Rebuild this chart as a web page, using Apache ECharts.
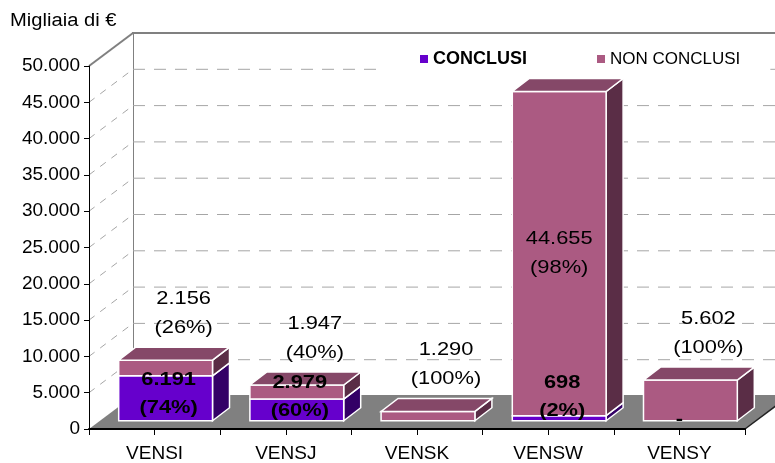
<!DOCTYPE html>
<html>
<head>
<meta charset="utf-8">
<script src="https://cdn.jsdelivr.net/npm/echarts@6/dist/echarts.min.js"></script>
<style>
    html, body { margin: 0; padding: 0; background: #fff; }
    #chart { width: 775px; height: 463px; }
</style>
</head>
<body>
<div id="chart"></div>
<script>
// dati
var categories = ['VENSI', 'VENSJ', 'VENSK', 'VENSW', 'VENSY'];
var conclusi = [6191, 2979, 0, 698, 0];
var nonConclusi = [2156, 1947, 1290, 44655, 5602];
var yTicks = [0, 5000, 10000, 15000, 20000, 25000, 30000, 35000, 40000, 45000, 50000];

// effetto 3D
var WALL = [44, -33];
var BAR_DEPTH = [17, -13];
var BAR_SHIFT = 0.25;
var BAR_WIDTH = 0.715;
var TEXT_STRETCH = 1.15;
var FONT = '"Liberation Sans", Arial, sans-serif';

var colConclusi = { front: '#6600CC', side: '#330066', top: '#4d0099' };
var colNon = { front: '#AB5A82', side: '#5A2D46', top: '#854868' };

function fmt(v) {
    return String(v).replace(/\B(?=(\d{3})+(?!\d))/g, '.');
}

function boxGeom(api, cat, base, val) {
    var p0 = api.coord([cat, base]), p1 = api.coord([cat, base + val]);
    var w = api.size([1, 0])[0] * BAR_WIDTH;
    var sx = WALL[0] * BAR_SHIFT, sy = WALL[1] * BAR_SHIFT;
    var x0 = p0[0] - w / 2 + sx;
    return { x0: x0, x1: x0 + w, yb: p0[1] + sy, yt: p1[1] + sy, cx: p0[0] + sx, c0: p0[0] };
}

function renderWalls(params, api) {
    var cs = params.coordSys;
    var L = cs.x, R = cs.x + cs.width, T = cs.y, B = cs.y + cs.height;
    var dx = WALL[0], dy = WALL[1];
    var kids = [];
    kids.push({
        type: 'polygon',
        shape: { points: [[L + dx, T + dy], [R + dx + 60, T + dy], [R + dx + 60, B + dy], [L + dx, B + dy]] },
        style: { fill: '#fff', stroke: '#808080', lineWidth: 2 }
    });
    kids.push({
        type: 'polygon',
        shape: { points: [[L, T], [L + dx, T + dy], [L + dx, B + dy], [L, B]] },
        style: { fill: '#fff' }
    });
    yTicks.forEach(function (v) {
        if (v === 0) return;
        var y = api.coord([0, v])[1];
        var top = v === yTicks[yTicks.length - 1];
        if (!top) {
            kids.push({
                type: 'line',
                shape: { x1: L + dx, y1: y + dy, x2: R + dx + 60, y2: y + dy },
                style: { stroke: '#a6a6a6', lineWidth: 1, lineDash: [12, 9] }
            });
        }
        kids.push({
            type: 'line',
            shape: { x1: L, y1: y, x2: L + dx, y2: y + dy },
            style: top ? { stroke: '#808080', lineWidth: 2 } : { stroke: '#a6a6a6', lineWidth: 1, lineDash: [7, 7] }
        });
    });
    // pavimento
    kids.push({
        type: 'polygon',
        shape: { points: [[L, B], [R, B], [R + dx, B + dy], [L + dx, B + dy]] },
        style: { fill: '#808080' }
    });
    kids.push({
        type: 'line',
        shape: { x1: R, y1: B, x2: R + dx, y2: B + dy },
        style: { stroke: '#222', lineWidth: 1.5 }
    });
    return { type: 'group', children: kids };
}

function makeBarRenderer(colors, withTop) {
    return function (params, api) {
        var val = api.value(2);
        if (!(val > 0)) return;
        var g = boxGeom(api, api.value(0), api.value(1), val);
        var dx = BAR_DEPTH[0], dy = BAR_DEPTH[1];
        var kids = [
            {
                type: 'polygon',
                shape: { points: [[g.x1, g.yb], [g.x1 + dx, g.yb + dy], [g.x1 + dx, g.yt + dy], [g.x1, g.yt]] },
                style: { fill: colors.side, stroke: '#fff', lineWidth: 1.5 }
            },
            {
                type: 'rect',
                shape: { x: g.x0, y: g.yt, width: g.x1 - g.x0, height: g.yb - g.yt },
                style: { fill: colors.front, stroke: '#fff', lineWidth: 1.5 }
            }
        ];
        if (withTop) {
            kids.push({
                type: 'polygon',
                shape: { points: [[g.x0, g.yt], [g.x1, g.yt], [g.x1 + dx, g.yt + dy], [g.x0 + dx, g.yt + dy]] },
                style: { fill: colors.top, stroke: '#fff', lineWidth: 1.5 }
            });
        }
        return { type: 'group', children: kids };
    };
}

function label(text, x, y, weight, lh) {
    return {
        type: 'text', x: x, y: y, scaleX: TEXT_STRETCH,
        style: {
            text: text, x: 0, y: 0, fill: '#000',
            font: weight + ' 19px ' + FONT, align: 'center', verticalAlign: 'middle', lineHeight: lh
        }
    };
}

function renderLabels(params, api) {
    var i = api.value(0), c = api.value(1), n = api.value(2);
    var tot = c + n;
    var gT = boxGeom(api, i, 0, tot), gC = boxGeom(api, i, 0, c);
    var pc = Math.round(c / tot * 100), pn = 100 - pc;
    var kids = [];
    var segH = gC.yt - gT.yt;
    if (segH > 60) {
        kids.push(label(fmt(n) + '\n(' + pn + '%)', gT.cx, (gC.yt + gT.yt) / 2, 'normal', 29));
    } else {
        kids.push(label(fmt(n) + '\n(' + pn + '%)', gT.cx + 18, gT.yt - 47, 'normal', 29));
    }
    if (c > 0) {
        kids.push(label(fmt(c) + '\n(' + pc + '%)', gC.cx + 3,
            Math.min((gC.yb + gC.yt) / 2 - 5, gC.yb - 24), 'bold', 28));
    } else if (gT.yb - gT.yt > 30) {
        kids.push(label('-', gT.c0, gT.yb - 1, 'bold', 19));
    }
    return { type: 'group', children: kids };
}

var chart = echarts.init(document.getElementById('chart'));
chart.setOption({
    animation: false,
    backgroundColor: '#fff',
    textStyle: { fontFamily: FONT },
    graphic: [{
        type: 'text', left: 10, top: 12, scaleX: 1.12,
        style: { text: 'Migliaia di €', fill: '#000', font: 'normal 18px ' + FONT }
    }],
    legend: {
        data: [
            { name: 'CONCLUSI', textStyle: { fontWeight: 'bold', fontSize: 18 } },
            { name: 'NON CONCLUSI' }
        ],
        left: 385, top: 43, icon: 'rect', itemWidth: 8, itemHeight: 8, itemGap: 70,
        backgroundColor: '#fff', padding: [7, 30, 8, 35],
        textStyle: { color: '#000', fontSize: 17, fontFamily: FONT }
    },
    grid: { left: 89, right: 30, top: 66, bottom: 34, containLabel: false, outerBoundsMode: 'none' },
    xAxis: [{
        type: 'category', data: categories, boundaryGap: true, z: 10,
        axisLine: { show: true, lineStyle: { color: '#000', width: 2 } },
        axisTick: { show: true, interval: 0, length: 6, alignWithLabel: false, lineStyle: { color: '#000' } },
        axisLabel: { color: '#000', fontSize: 19, fontFamily: FONT, margin: 15, interval: 0 },
        splitLine: { show: false }
    }, {
        type: 'category', data: categories, boundaryGap: true, position: 'bottom', z: 10,
        axisLine: { show: false },
        axisTick: { show: true, interval: 0, length: 6, alignWithLabel: true, lineStyle: { color: '#000' } },
        axisLabel: { show: false },
        splitLine: { show: false }
    }],
    yAxis: {
        type: 'value', min: yTicks[0], max: yTicks[yTicks.length - 1], interval: yTicks[1] - yTicks[0], z: 10,
        axisLine: { show: true, lineStyle: { color: '#000', width: 1 } },
        axisTick: { show: true, length: 5, lineStyle: { color: '#000' } },
        axisLabel: { color: '#000', fontSize: 19, fontFamily: FONT, margin: 9, formatter: fmt },
        splitLine: { show: false }
    },
    series: [{
        type: 'custom', name: 'pareti', z: 1, silent: true,
        renderItem: renderWalls,
        data: [[0, 0, 0]]
    }, {
        type: 'custom', name: 'CONCLUSI', z: 2,
        itemStyle: { color: colConclusi.front },
        renderItem: makeBarRenderer(colConclusi, false),
        encode: { x: 0, y: 2 },
        data: categories.map(function (c, i) { return [i, 0, conclusi[i]]; })
    }, {
        type: 'custom', name: 'NON CONCLUSI', z: 2,
        itemStyle: { color: colNon.front },
        renderItem: makeBarRenderer(colNon, true),
        encode: { x: 0, y: 2 },
        data: categories.map(function (c, i) { return [i, conclusi[i], nonConclusi[i]]; })
    }, {
        type: 'custom', name: 'etichette', z: 5, silent: true,
        renderItem: renderLabels,
        encode: { x: 0, y: 2 },
        data: categories.map(function (c, i) { return [i, conclusi[i], nonConclusi[i]]; })
    }]
});
</script>
</body>
</html>
